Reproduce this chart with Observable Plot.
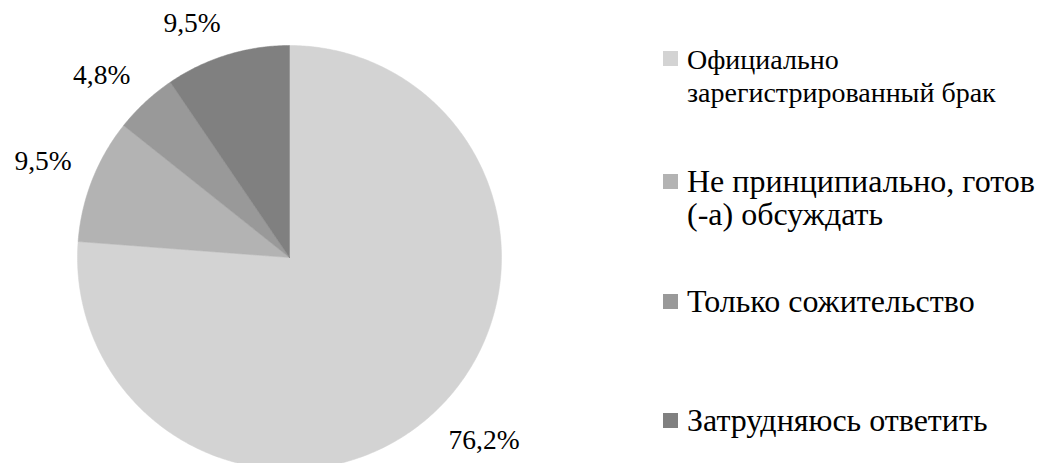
<!DOCTYPE html>
<html>
<head>
<meta charset="utf-8">
<script src="https://cdn.jsdelivr.net/npm/d3@7"></script>
<script src="https://cdn.jsdelivr.net/npm/@observablehq/plot@0.6"></script>
<style>
  html, body { margin: 0; padding: 0; background: #fff; }
  #wrap { position: relative; width: 1037px; height: 463px; overflow: hidden; font-family: 'Liberation Serif', serif; }
  #chart { position: absolute; left: 0; top: 0; }
  .item { position: absolute; left: 687px; color: #000; white-space: nowrap; font-family: 'Liberation Serif', serif; }
  .sw { position: absolute; left: -24px; width: 15px; height: 15px; }
</style>
</head>
<body>
<div id="wrap"><div id="chart"></div><div id="legend"></div></div>
<script>
const categories = [
  "Официально зарегистрированный брак",
  "Не принципиально, готов (-а) обсуждать",
  "Только сожительство",
  "Затрудняюсь ответить"
];
const legendLines = [
  ["Официально", "зарегистрированный брак"],
  ["Не принципиально, готов", "(-а) обсуждать"],
  ["Только сожительство"],
  ["Затрудняюсь ответить"]
];
const values = [76.2, 9.5, 4.8, 9.5];
const valueLabels = ["76,2%", "9,5%", "4,8%", "9,5%"];
const colors = ["#d3d3d3", "#b3b3b3", "#999999", "#808080"];

// layout
const W = 1037, H = 463;
const cx = 289, cy = 257, R = 212;
const labelFont = 27.5;
const labelGap = 22;

const arcs = d3.pie().sort(null)(values);

// slice polygons (unit radius, y up)
const slices = arcs.map((a) => {
  const pts = [{x: 0, y: 0}];
  const n = Math.max(8, Math.ceil((a.endAngle - a.startAngle) / 0.01));
  for (let k = 0; k <= n; k++) {
    const t = a.startAngle + (a.endAngle - a.startAngle) * k / n;
    pts.push({x: Math.sin(t), y: Math.cos(t)});
  }
  pts.push({x: 0, y: 0});
  return pts;
});

// label positions: nearest corner of the label box sits just outside the mid angle
const ctx = document.createElement("canvas").getContext("2d");
ctx.font = `${labelFont}px 'Liberation Serif'`;
const labelRows = arcs.map((a, i) => {
  const m = (a.startAngle + a.endAngle) / 2;
  const s = Math.sin(m), c = Math.cos(m);
  const w = ctx.measureText(valueLabels[i]).width;
  const h = labelFont * 0.8;
  const rr = 1 + labelGap / R;
  return {
    x: rr * s + Math.sign(s) * (w / 2 / R),
    y: rr * c + Math.sign(c) * (h / 2 / R),
    label: valueLabels[i]
  };
});

const plot = Plot.plot({
  width: W,
  height: H,
  margin: 0,
  x: {domain: [-1, 1], range: [cx - R, cx + R], axis: null},
  y: {domain: [-1, 1], range: [cy + R, cy - R], axis: null},
  style: {fontFamily: "'Liberation Serif', serif", background: "#fff"},
  marks: [
    ...slices.map((pts, i) => Plot.line(pts, {x: "x", y: "y", fill: colors[i], stroke: colors[i], strokeWidth: 0.5, curve: "linear"})),
    Plot.text(labelRows, {x: "x", y: "y", text: "label", fontSize: labelFont, fill: "#000", textAnchor: "middle", fontFamily: "'Liberation Serif', serif"})
  ]
});
document.getElementById("chart").appendChild(plot);

// legend
const baselines = [69, 192, 312, 431];
const legendFonts = [28, 32, 32, 32];
const lineH = 33;
const legend = document.getElementById("legend");
legendLines.forEach((lines, i) => {
  const F = legendFonts[i];
  const baseOff = (lineH - 1.107 * F) / 2 + 0.891 * F;
  const div = document.createElement("div");
  div.className = "item";
  div.style.fontSize = F + "px";
  div.style.lineHeight = lineH + "px";
  div.style.top = (baselines[i] - baseOff) + "px";
  div.innerHTML = lines.map(l => `<div>${l}</div>`).join("");
  const sw = document.createElement("div");
  sw.className = "sw";
  sw.style.background = colors[i];
  sw.style.top = (baseOff - 18) + "px";
  div.appendChild(sw);
  legend.appendChild(div);
});
</script>
</body>
</html>
